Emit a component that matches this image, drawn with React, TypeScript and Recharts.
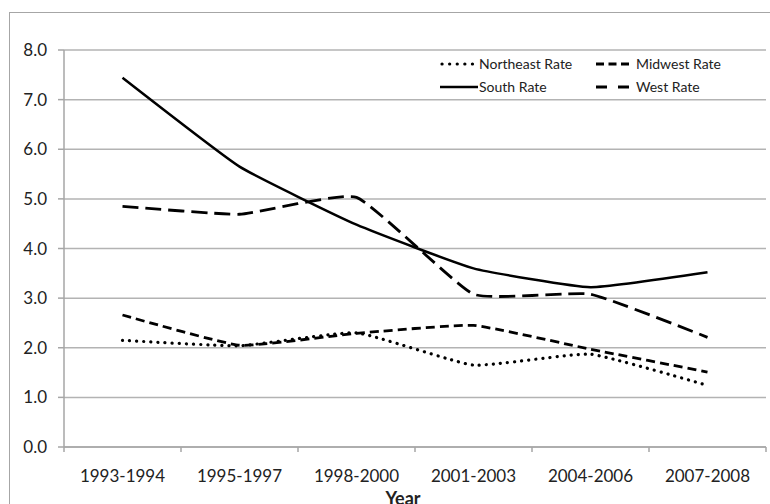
import { CartesianGrid, Legend, Line, LineChart, XAxis, YAxis } from 'recharts';

const periods = ['1993-1994', '1995-1997', '1998-2000', '2001-2003', '2004-2006', '2007-2008'];
const northeast = [2.15, 2.04, 2.3, 1.65, 1.87, 1.24];
const midwest = [2.66, 2.05, 2.29, 2.45, 1.97, 1.51];
const south = [7.44, 5.65, 4.48, 3.6, 3.22, 3.52];
const west = [4.85, 4.69, 5.03, 3.08, 3.08, 2.21];
const yTicks = [0, 1, 2, 3, 4, 5, 6, 7, 8];

const data = periods.map((p, i) => ({
  period: p,
  northeast: northeast[i],
  midwest: midwest[i],
  south: south[i],
  west: west[i],
}));

const SERIES = [
  { key: 'northeast', name: 'Northeast Rate', dash: '0.1 7', cap: 'round', width: 3.2, icon: '0.1 7.5' },
  { key: 'midwest', name: 'Midwest Rate', dash: '9 5', cap: 'butt', width: 2.8, icon: '8 4.5' },
  { key: 'south', name: 'South Rate', dash: undefined, cap: 'butt', width: 2.5, icon: undefined },
  { key: 'west', name: 'West Rate', dash: '16 7', cap: 'butt', width: 2.8, icon: '11 11' },
] as const;

const FONT = 'Lato, "Open Sans", sans-serif';
const W = 770;
const H = 504;
const PLOT_LEFT = 64;
const PLOT_RIGHT = 766;
const BAND = (PLOT_RIGHT - PLOT_LEFT) / periods.length;

// Excel-style smoothed line: a cardinal spline (same maths as d3's curveCardinal)
function cardinal(tension: number) {
  const k = (1 - tension) / 6;
  return (context: any) => {
    let x0 = NaN, x1 = NaN, x2 = NaN, y0 = NaN, y1 = NaN, y2 = NaN;
    let pt = 0;
    let line: any;
    const seg = (x: number, y: number) => {
      context.bezierCurveTo(x1 + k * (x2 - x0), y1 + k * (y2 - y0), x2 + k * (x1 - x), y2 + k * (y1 - y), x2, y2);
    };
    return {
      areaStart() { line = 0; },
      areaEnd() { line = NaN; },
      lineStart() { x0 = x1 = x2 = y0 = y1 = y2 = NaN; pt = 0; },
      lineEnd() {
        if (pt === 2) context.lineTo(x2, y2);
        else if (pt === 3) seg(x1, y1);
        if (line || (line !== 0 && pt === 1)) context.closePath();
        line = 1 - line;
      },
      point(x: number, y: number) {
        x = +x; y = +y;
        if (pt === 0) {
          pt = 1;
          if (line) context.lineTo(x, y); else context.moveTo(x, y);
        } else if (pt === 1) {
          pt = 2; x1 = x; y1 = y;
        } else {
          pt = 3; seg(x, y);
        }
        x0 = x1; x1 = x2; x2 = x;
        y0 = y1; y1 = y2; y2 = y;
      },
    };
  };
}
const smooth = cardinal(0.6);

function XTick(props: any) {
  const { x, y, payload, index } = props;
  const left = x - BAND / 2;
  return (
    <g>
      <line x1={left} x2={left} y1={y} y2={y + 5} stroke="#a6a6a6" strokeWidth={1.5} />
      {index === periods.length - 1 ? (
        <line x1={x + BAND / 2} x2={x + BAND / 2} y1={y} y2={y + 5} stroke="#a6a6a6" strokeWidth={1.5} />
      ) : null}
      <text x={x} y={y + 35} textAnchor="middle" fontFamily={FONT} fontSize={17} fill="#222">
        {payload.value}
      </text>
    </g>
  );
}

function LegendBox() {
  return (
    <div style={{ display: 'grid', gridTemplateColumns: '156px 140px', rowGap: 4, fontFamily: FONT, fontSize: 14, color: '#222' }}>
      {SERIES.map((s, i) => {
        const w = i % 2 === 0 ? 38 : 33;
        return (
          <div key={s.key} style={{ display: 'flex', alignItems: 'center', height: 19 }}>
            <svg width={w} height={10} style={{ marginRight: i % 2 === 0 ? 1 : 7 }}>
              <line x1={s.cap === 'round' ? 2 : 0} x2={s.cap === 'round' ? w - 2 : w} y1={5} y2={5} stroke="#000" strokeWidth={s.width}
                strokeDasharray={s.icon} strokeLinecap={s.cap} />
            </svg>
            <span>{s.name}</span>
          </div>
        );
      })}
    </div>
  );
}

export default function App() {
  return (
    <div style={{ position: 'fixed', left: 0, top: 0, width: W, height: H, overflow: 'hidden', background: '#fff' }}>
      <div style={{ position: 'absolute', left: 9, top: 12, width: 900, height: 700, border: '1.5px solid #a6a6a6' }} />
      <LineChart width={W} height={H} data={data} margin={{ top: 50, right: W - PLOT_RIGHT, bottom: 0, left: 0 }}>
        <CartesianGrid vertical={false} stroke="#b3b3b3" strokeWidth={1.5} />
        <XAxis dataKey="period" height={57} axisLine={{ stroke: '#a6a6a6', strokeWidth: 1.5 }} tickLine={false}
          tickSize={0} tickMargin={0} interval={0} tick={<XTick />} padding={{ left: BAND / 2, right: BAND / 2 }}
          label={{ value: 'Year', position: 'insideBottom', offset: -1, dx: -12, fontFamily: FONT, fontSize: 18, fontWeight: 'bold', fill: '#222' }} />
        <YAxis domain={[0, 8]} ticks={yTicks} width={PLOT_LEFT} interval={0}
          tickFormatter={(v: number) => v.toFixed(1)}
          axisLine={{ stroke: '#a6a6a6', strokeWidth: 1.5 }} tickLine={{ stroke: '#a6a6a6', strokeWidth: 1.5 }}
          tickSize={6} tickMargin={11} tick={{ fontFamily: FONT, fontSize: 17, fill: '#222' }} />
        <Legend layout="horizontal" verticalAlign="middle" align="center" content={<LegendBox />}
          wrapperStyle={{ left: 440, top: 54, width: 310 }} />
        {SERIES.map((s) => (
          <Line key={s.key} type={smooth as any} dataKey={s.key} name={s.name} stroke="#000" strokeWidth={s.width}
            strokeDasharray={s.dash} strokeLinecap={s.cap} dot={false} activeDot={false} isAnimationActive={false} />
        ))}
      </LineChart>
    </div>
  );
}
